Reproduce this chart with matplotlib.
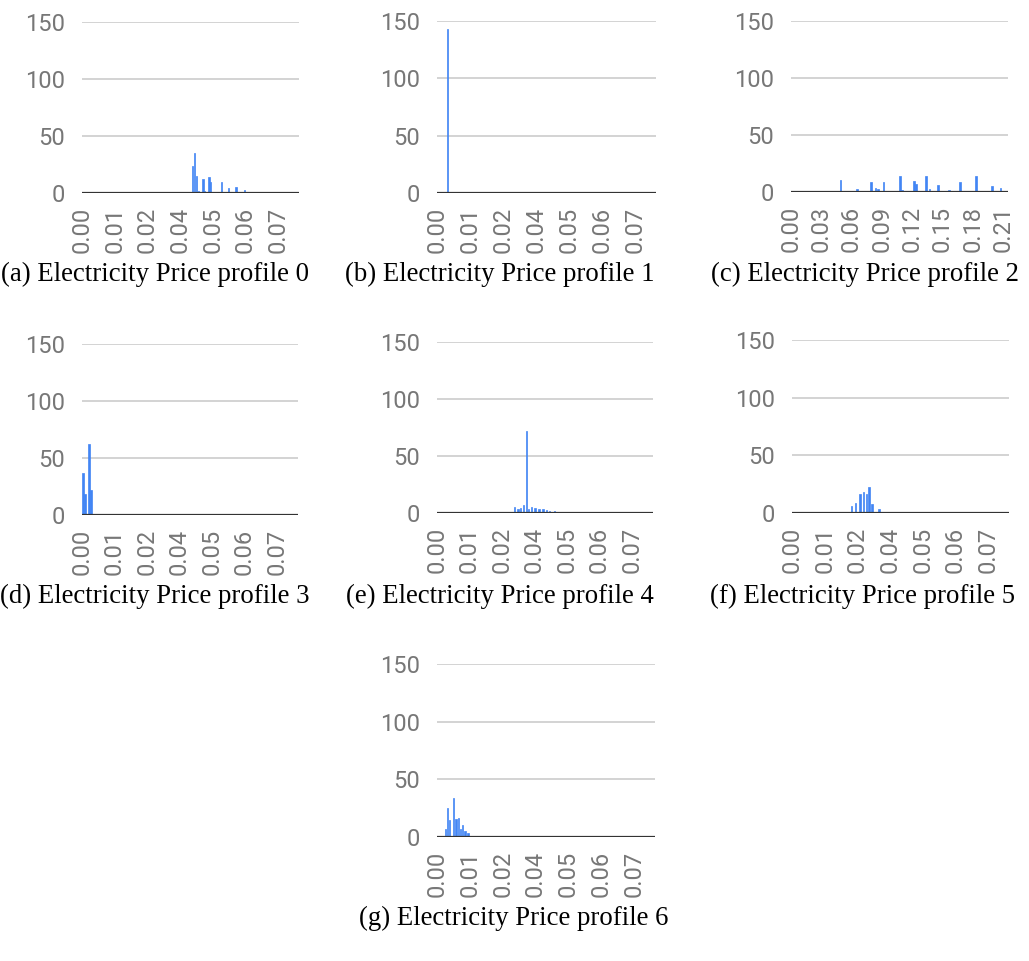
import matplotlib
matplotlib.use("Agg")
import matplotlib.pyplot as plt

W, H = 1029, 961

# histogram spikes per profile (bucket centre, count)
p0_x = [0.0406, 0.0413, 0.0421, 0.0429, 0.0444, 0.0451, 0.0466, 0.0473, 0.0499,
        0.0512, 0.0539, 0.0565, 0.0596, 0.0752]
p0_y = [24, 35, 14.5, 1.5, 12, 2, 14, 10, 1, 10, 4.4, 5, 3, 1]

p1_x = [0.0038]
p1_y = [143]

p2_x = [0.0490, 0.0653, 0.0792, 0.0837, 0.0861, 0.0916, 0.1079, 0.1099, 0.1218,
        0.1238, 0.1337, 0.1371, 0.1455, 0.1564, 0.1673, 0.1832, 0.1990, 0.2079]
p2_y = [10.2, 3, 8.5, 3.5, 2.6, 8.8, 14.3, 2, 10, 7.3, 14.3, 2.6, 6.4, 1.5,
        8.8, 14.3, 5, 3.5]

p3_x = [0.0004, 0.0011, 0.0026, 0.0033]
p3_y = [37, 18.7, 62, 22]

p4_x = [0.0287, 0.0299, 0.0307, 0.0320, 0.0331, 0.0338, 0.0349, 0.0362, 0.0377,
        0.0391, 0.0404, 0.0415, 0.0434, 0.0470, 0.0507]
p4_y = [5.3, 3.2, 4.4, 6.8, 72, 3.8, 5.6, 4.4, 3.8, 3.8, 2.6, 1.8, 2, 1, 0.8]

p5_x = [0.0158, 0.0176, 0.0198, 0.0218, 0.0234, 0.0250, 0.0262, 0.0274, 0.0283,
        0.0294, 0.0319, 0.0342, 0.0360]
p5_y = [1, 1, 1, 5.8, 8.7, 16.8, 18.2, 16.8, 22.6, 8.1, 3.8, 1, 0.8]

p6_x = [0.0030, 0.0038, 0.0045, 0.0061, 0.0069, 0.0078, 0.0086, 0.0093, 0.0102,
        0.0113, 0.0166, 0.0191]
p6_y = [7.3, 25.5, 14.5, 33.4, 16, 16.8, 7.3, 10.2, 5.2, 3.8, 1, 1]

captions = ["(a) Electricity Price profile 0", "(b) Electricity Price profile 1",
            "(c) Electricity Price profile 2", "(d) Electricity Price profile 3",
            "(e) Electricity Price profile 4", "(f) Electricity Price profile 5",
            "(g) Electricity Price profile 6"]

ticks_small = [0, 0.012, 0.024, 0.036, 0.048, 0.060, 0.072]
ticks_wide = [0, 0.03, 0.06, 0.09, 0.12, 0.15, 0.18, 0.21]

series = [(p0_x, p0_y), (p1_x, p1_y), (p2_x, p2_y), (p3_x, p3_y),
          (p4_x, p4_y), (p5_x, p5_y), (p6_x, p6_y)]

# pixel boxes: left, top (150 line), right, bottom (0 line)
boxes = [(82, 22, 299, 193), (437, 21, 656, 193), (791, 21, 1008, 192),
         (82, 344, 298, 515), (437, 342, 653, 513), (792, 340, 1009, 513),
         (437, 664, 655, 837)]
cap_pos = [(155, 274), (500, 274), (865, 274),
           (155, 596), (500, 596), (863, 596), (514, 918)]

blue = "#4285f4"
grey = "#777777"

fig = plt.figure(figsize=(W / 100, H / 100), dpi=100)

for i, ((xs, ys), (l, t, r, b)) in enumerate(zip(series, boxes)):
    ax = fig.add_axes([l / W, 1 - b / H, (r - l) / W, (b - t) / H])
    wide = i == 2
    xmax = 0.215 if wide else 0.0797
    width = 0.0013 if wide else 0.0005
    ax.bar(xs, ys, width=width, color=blue, edgecolor=blue, linewidth=0.5,
           zorder=3)
    ax.set_xlim(0, xmax)
    ax.set_ylim(0, 150)
    for s in ax.spines.values():
        s.set_visible(False)
    ax.set_yticks([0, 50, 100, 150])
    ax.grid(axis="y", color="#cccccc", linewidth=1.2, zorder=0)
    ax.axhline(0, color="#333333", linewidth=1.6, zorder=4)
    ticks = ticks_wide if wide else ticks_small
    ax.set_xticks(ticks)
    ax.set_xticklabels(["%.2f" % v for v in ticks], rotation=90)
    ax.tick_params(axis="both", length=0, colors=grey, labelsize=17)
    ax.tick_params(axis="y", pad=12)
    ax.tick_params(axis="x", pad=10)
    for lab in ax.get_xticklabels() + ax.get_yticklabels():
        lab.set_family("Roboto")
    cx, cy = cap_pos[i]
    fig.text(cx / W, 1 - cy / H, captions[i], ha="center", va="center",
             family="Liberation Serif", fontsize=19.3, color="black")

fig.savefig("out.png", dpi=100, facecolor="white")
